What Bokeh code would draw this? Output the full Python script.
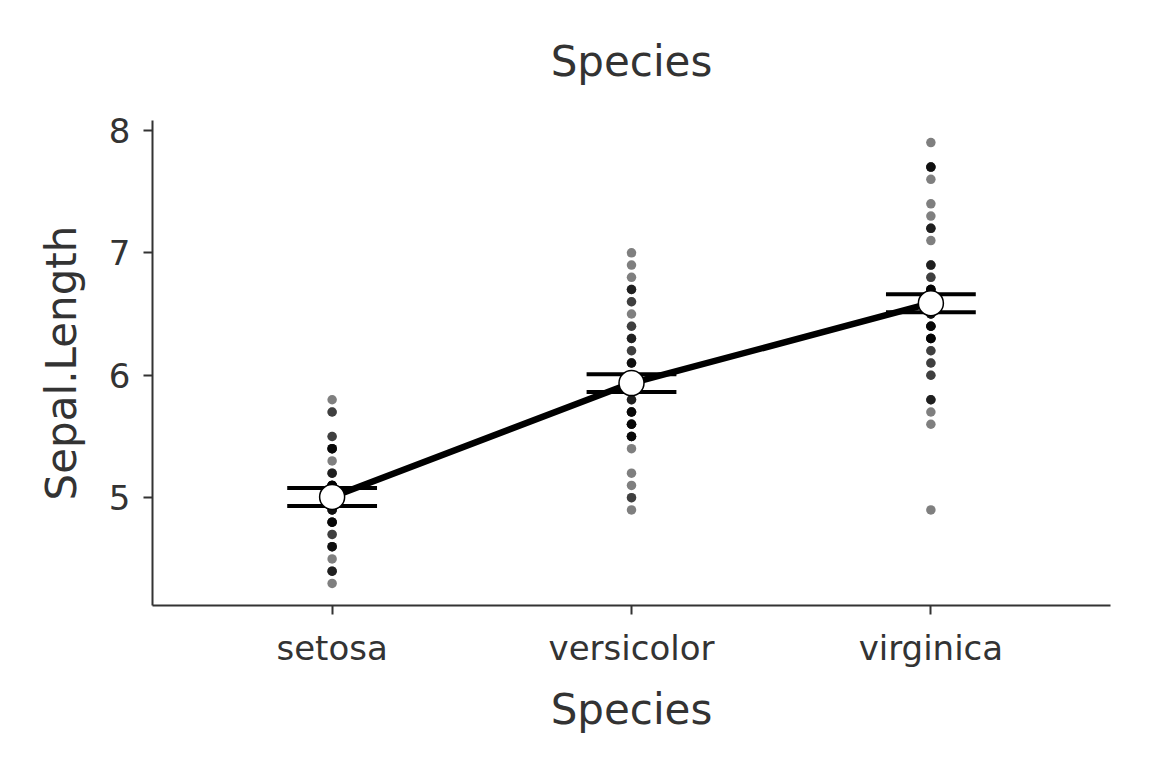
from bokeh.plotting import figure
from bokeh.models import Range1d, FixedTicker, Title
from bokeh.embed import file_html
from bokeh.resources import INLINE

species = ["setosa", "versicolor", "virginica"]

setosa = [5.1, 4.9, 4.7, 4.6, 5.0, 5.4, 4.6, 5.0, 4.4, 4.9, 5.4, 4.8, 4.8, 4.3, 5.8, 5.7, 5.4, 5.1, 5.7, 5.1,
          5.4, 5.1, 4.6, 5.1, 4.8, 5.0, 5.0, 5.2, 5.2, 4.7, 4.8, 5.4, 5.2, 5.5, 4.9, 5.0, 5.5, 4.9, 4.4, 5.1,
          5.0, 4.5, 4.4, 5.0, 5.1, 4.8, 5.1, 4.6, 5.3, 5.0]
versicolor = [7.0, 6.4, 6.9, 5.5, 6.5, 5.7, 6.3, 4.9, 6.6, 5.2, 5.0, 5.9, 6.0, 6.1, 5.6, 6.7, 5.6, 5.8, 6.2, 5.6,
              5.9, 6.1, 6.3, 6.1, 6.4, 6.6, 6.8, 6.7, 6.0, 5.7, 5.5, 5.5, 5.8, 6.0, 5.4, 6.0, 6.7, 6.3, 5.6, 5.5,
              5.5, 6.1, 5.8, 5.0, 5.6, 5.7, 5.7, 6.2, 5.1, 5.7]
virginica = [6.3, 5.8, 7.1, 6.3, 6.5, 7.6, 4.9, 7.3, 6.7, 7.2, 6.5, 6.4, 6.8, 5.7, 5.8, 6.4, 6.5, 7.7, 7.7, 6.0,
             6.9, 5.6, 7.7, 6.3, 6.7, 7.2, 6.2, 6.1, 6.4, 7.2, 7.4, 7.9, 6.4, 6.3, 6.1, 7.7, 6.3, 6.4, 6.0, 6.9,
             6.7, 6.9, 5.8, 6.8, 6.7, 6.7, 6.3, 6.7, 6.5, 6.2]

means = [5.006, 5.936, 6.588]
se = [0.0728, 0.0728, 0.0728]

y_ticks = [5, 6, 7, 8]

TXT = "#333333"
FONT = "DejaVu Sans"

p = figure(width=1152, height=768, output_backend="svg", toolbar_location=None,
           x_range=Range1d(0.4, 3.6), y_range=Range1d(4.12, 8.08),
           min_border_left=152, min_border_right=42, min_border_top=120, min_border_bottom=163)
p.outline_line_color = None
p.xgrid.visible = False
p.ygrid.visible = False
p.background_fill_color = "white"
p.border_fill_color = "white"

title = Title(text="Species", align="center", text_font=FONT, text_font_size="42px",
              text_color=TXT, text_font_style="normal", standoff=69)
p.add_layout(title, "above")

xpos = [1, 2, 3]
groups = [setosa, versicolor, virginica]
for x, vals in zip(xpos, groups):
    p.scatter(x=[x] * len(vals), y=vals, size=9.5, fill_color="black", fill_alpha=0.5, line_color=None)

# error bars
half = 0.15
p.segment(x0=[x - half for x in xpos], x1=[x + half for x in xpos],
          y0=[m + s for m, s in zip(means, se)], y1=[m + s for m, s in zip(means, se)],
          line_color="black", line_width=4)
p.segment(x0=[x - half for x in xpos], x1=[x + half for x in xpos],
          y0=[m - s for m, s in zip(means, se)], y1=[m - s for m, s in zip(means, se)],
          line_color="black", line_width=4)
p.segment(x0=xpos, x1=xpos,
          y0=[m - s for m, s in zip(means, se)], y1=[m + s for m, s in zip(means, se)],
          line_color="black", line_width=4)

p.line(x=xpos, y=means, line_color="black", line_width=6.5)
p.scatter(x=xpos, y=means, size=25, fill_color="white", line_color="black", line_width=1.5)

for ax in (p.xaxis[0], p.yaxis[0]):
    ax.axis_line_color = TXT
    ax.axis_line_width = 2
    ax.major_tick_line_color = TXT
    ax.major_tick_line_width = 2
    ax.major_tick_out = 9
    ax.major_tick_in = 0
    ax.minor_tick_line_color = None
    ax.major_label_text_font = FONT
    ax.major_label_text_font_size = "34px"
    ax.major_label_text_color = TXT
    ax.axis_label_text_font = FONT
    ax.axis_label_text_font_size = "42px"
    ax.axis_label_text_color = TXT
    ax.axis_label_text_font_style = "normal"

p.xaxis.ticker = FixedTicker(ticks=xpos)
p.xaxis.major_label_overrides = {1: species[0], 2: species[1], 3: species[2]}
p.xaxis.axis_label = "Species"
p.xaxis.major_label_standoff = 13
p.xaxis.axis_label_standoff = 14

p.yaxis.ticker = FixedTicker(ticks=y_ticks)
p.yaxis.axis_label = "Sepal.Length"
p.yaxis.major_label_standoff = 13
p.yaxis.axis_label_standoff = 20

open("out.html", "w").write(file_html(p, INLINE))
